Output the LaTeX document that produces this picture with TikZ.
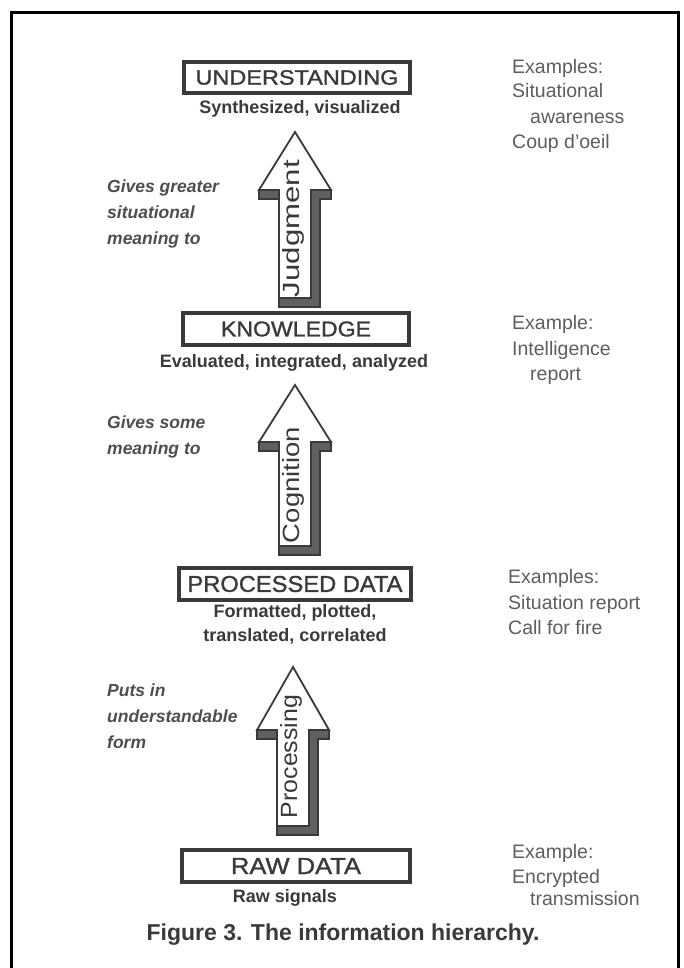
\documentclass[tikz,border=0pt]{standalone}
\usepackage{fontspec}
\setmainfont{Liberation Sans}
\usepackage{graphicx}
\definecolor{ink}{HTML}{3A3A3A}
\definecolor{exink}{HTML}{5E5E5E}
\definecolor{shade}{HTML}{606060}
\tikzset{
  box/.style={draw=ink, line width=3.2pt, inner sep=0pt, text=ink},
  sub/.style={text=ink, inner sep=0pt, font=\bfseries\fontsize{18}{26}\selectfont},
  lbl/.style={text=ink!90, inner sep=0pt, anchor=west, font=\bfseries\itshape\fontsize{17.5}{26}\selectfont, text height=13pt, text depth=4pt},
  ex/.style={text=exink, inner sep=0pt, anchor=west, font=\fontsize{19.5}{25}\selectfont, text height=14pt, text depth=4pt},
  arrowbody/.style={draw=ink, line width=1.8pt, fill=white, line join=miter},
  arrowshade/.style={draw=ink, line width=1.2pt, fill=shade, line join=miter},
  arrlbl/.style={rotate=90, anchor=base, inner sep=0pt, text=ink},
  ttl/.style={font=\addfontfeature{FakeBold=1.2}}
}
\newcommand\blockarr[4]{%
  \path[arrowshade] (#1-36,#3) -- (#1+36,#3) -- (#1+36,#3+9) -- (#1+25,#3+9) -- (#1+25,#4+9)
     -- (#1-16,#4+9) -- (#1-16,#3+9) -- (#1-36,#3+9) -- cycle;
  \path[arrowbody] (#1,#2) -- (#1+36,#3) -- (#1+16,#3) -- (#1+16,#4) -- (#1-16,#4) -- (#1-16,#3) -- (#1-36,#3) -- cycle;
}
\begin{document}
\begin{tikzpicture}[x=1pt,y=-1pt]
\useasboundingbox (0,0) rectangle (684,968);
\fill[white] (0,0) rectangle (684,968);
\draw[line width=3pt, line join=miter] (11,972) -- (11,13) -- (678,13) -- (678,972);

% boxes
\node[box, minimum width=226pt, minimum height=31pt] (und) at (297,77.5)
  {\resizebox{203pt}{14.5pt}{\addfontfeature{FakeBold=1.2}UNDERSTANDING}};
\node[sub] (unds) at (300,109) {Synthesized, visualized};

\node[box, minimum width=226pt, minimum height=32pt] (kno) at (296,329)
  {\resizebox{150pt}{15pt}{\addfontfeature{FakeBold=1.2}KNOWLEDGE}};
\node[sub] (knos) at (294,363) {Evaluated, integrated, analyzed};

\node[box, minimum width=232pt, minimum height=32pt] (pro) at (295,584)
  {\resizebox{215pt}{16pt}{\addfontfeature{FakeBold=1.2}PROCESSED DATA}};
\node[sub] (pros1) at (295,613) {Formatted, plotted,};
\node[sub] (pros2) at (295,636) {translated, correlated};

\node[box, minimum width=228pt, minimum height=32pt] (raw) at (296,866)
  {\resizebox{130pt}{16pt}{\addfontfeature{FakeBold=1.2}RAW DATA}};
\node[sub] (raws) at (285,898) {Raw signals};

% arrows
\blockarr{295}{132}{190}{298}
\node[arrlbl] (jud) at (299,228.5) {\resizebox{137pt}{17pt}{Judgment}};
\blockarr{295}{385}{442}{546}
\node[arrlbl] (cog) at (299,485) {\resizebox{116pt}{17pt}{Cognition}};
\blockarr{293}{667}{730}{826}
\node[arrlbl] (prc) at (297,756.5) {\resizebox{123pt}{17pt}{Processing}};

% left labels
\node[lbl] (l1a) at (107,188) {Gives greater};
\node[lbl] (l1b) at (107,214) {situational};
\node[lbl] (l1c) at (107,240) {meaning to};
\node[lbl] (l2a) at (107,424) {Gives some};
\node[lbl] (l2b) at (107,450) {meaning to};
\node[lbl] (l3a) at (107,692) {Puts in};
\node[lbl] (l3b) at (107,718) {understandable};
\node[lbl] (l3c) at (107,744) {form};

% examples
\node[ex] (e1a) at (512,69) {Examples:};
\node[ex] (e1b) at (512,93) {Situational};
\node[ex] (e1c) at (530,119) {awareness};
\node[ex] (e1d) at (512,144) {Coup d'oeil};
\node[ex] (e2a) at (512,324) {Example:};
\node[ex] (e2b) at (512,350) {Intelligence};
\node[ex] (e2c) at (530,375) {report};
\node[ex] (e3a) at (508,578) {Examples:};
\node[ex] (e3b) at (508,604) {Situation report};
\node[ex] (e3c) at (508,629) {Call for fire};
\node[ex] (e4a) at (512,853) {Example:};
\node[ex] (e4b) at (512,878) {Encrypted};
\node[ex] (e4c) at (530,900) {transmission};

% caption
\node[text=ink, inner sep=0pt, font=\bfseries\fontsize{23}{28}\selectfont] (cap) at (343,935)
  {Figure 3. The information hierarchy.};
\end{tikzpicture}
\end{document}
